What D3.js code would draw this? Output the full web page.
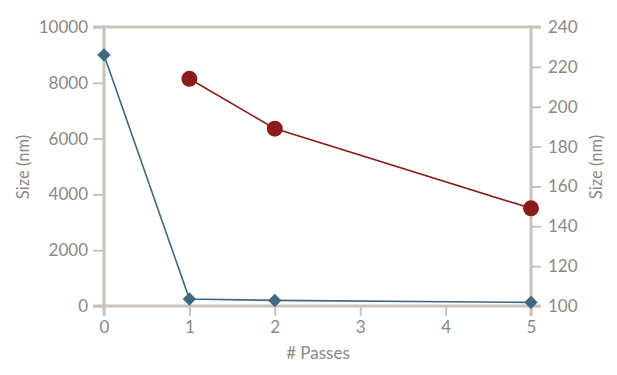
<!DOCTYPE html>
<html>
<head>
<meta charset="utf-8">
<script src="https://cdn.jsdelivr.net/npm/d3@7"></script>
<style>
  body { margin: 0; background: #fff; }
  text { font-family: Lato, "Open Sans", sans-serif; fill: #8d8883; }
</style>
</head>
<body>
<svg id="chart" width="617" height="375"></svg>
<script>
// data
var passes = [0, 1, 2, 5];
var sizeLeft = [9000, 250, 200, 130];
var passesRight = [1, 2, 5];
var sizeRight = [214, 189, 149];
var xTicks = [0, 1, 2, 3, 4, 5];
var leftTicks = [0, 2000, 4000, 6000, 8000, 10000];
var rightTicks = [100, 120, 140, 160, 180, 200, 220, 240];

var svg = d3.select("#chart"),
    plotL = 104, plotR = 531, plotT = 27, plotB = 306;

var axisCol = "#cbc3bb";

var x = d3.scaleLinear().domain([0, 5]).range([plotL, plotR]);
var y1 = d3.scaleLinear().domain([0, 10000]).range([plotB, plotT]);
var y2 = d3.scaleLinear().domain([100, 240]).range([plotB, plotT]);

/* frame lines top and bottom */
[plotT, plotB].forEach(function(yy) {
  svg.append("line")
      .attr("x1", 93).attr("x2", 541)
      .attr("y1", yy).attr("y2", yy)
      .attr("stroke", axisCol).attr("stroke-width", 3);
});

/* left axis */
var gl = svg.append("g").attr("transform", "translate(" + plotL + ",0)")
    .call(d3.axisLeft(y1).tickValues(leftTicks).tickSize(11).tickPadding(5).tickFormat(d3.format("d")));
/* right axis */
var gr = svg.append("g").attr("transform", "translate(" + plotR + ",0)")
    .call(d3.axisRight(y2).tickValues(rightTicks).tickSize(10).tickPadding(7).tickFormat(d3.format("d")));
/* bottom axis */
var gb = svg.append("g").attr("transform", "translate(0," + plotB + ")")
    .call(d3.axisBottom(x).tickValues(xTicks).tickSize(10).tickPadding(5).tickFormat(d3.format("d")));

[gl, gr, gb].forEach(function(g) {
  g.select(".domain").remove();
  g.selectAll(".tick line").attr("stroke", axisCol).attr("stroke-width", 2);
  g.selectAll(".tick text").style("font-size", "17px").attr("fill", "#8d8883");
});

// vertical axis lines
svg.append("line").attr("x1", plotL).attr("x2", plotL).attr("y1", plotT - 1.5).attr("y2", plotB + 10)
    .attr("stroke", axisCol).attr("stroke-width", 3);
svg.append("line").attr("x1", plotR).attr("x2", plotR).attr("y1", plotT - 1.5).attr("y2", plotB + 10)
    .attr("stroke", axisCol).attr("stroke-width", 3);

/* axis titles */
svg.append("text").attr("transform", "translate(29,167) rotate(-90)")
    .attr("text-anchor", "middle").style("font-size", "16.5px").text("Size (nm)");
svg.append("text").attr("transform", "translate(602,167) rotate(-90)")
    .attr("text-anchor", "middle").style("font-size", "16.5px").text("Size (nm)");
svg.append("text").attr("x", 318).attr("y", 359)
    .attr("text-anchor", "middle").style("font-size", "17px").text("# Passes");

/* blue series */
var blue = "#3f6983";
var line1 = d3.line().x(function(d, i) { return x(passes[i]); }).y(function(d) { return y1(d); });
svg.append("path").attr("d", line1(sizeLeft)).attr("fill", "none")
    .attr("stroke", blue).attr("stroke-width", 1.6);
svg.selectAll(".dia").data(sizeLeft).enter().append("path")
    .attr("class", "dia")
    .attr("d", d3.symbol().type(d3.symbolSquare).size(90))
    .attr("transform", function(d, i) { return "translate(" + x(passes[i]) + "," + y1(d) + ") rotate(45)"; })
    .attr("fill", blue);

/* red series */
var red = "#8c1b1b";
var line2 = d3.line().x(function(d, i) { return x(passesRight[i]); }).y(function(d) { return y2(d); });
svg.append("path").attr("d", line2(sizeRight)).attr("fill", "none")
    .attr("stroke", red).attr("stroke-width", 1.6);
svg.selectAll(".dot").data(sizeRight).enter().append("circle")
    .attr("class", "dot")
    .attr("cx", function(d, i) { return x(passesRight[i]); })
    .attr("cy", function(d) { return y2(d); })
    .attr("r", 8)
    .attr("fill", red);
</script>
</body>
</html>
